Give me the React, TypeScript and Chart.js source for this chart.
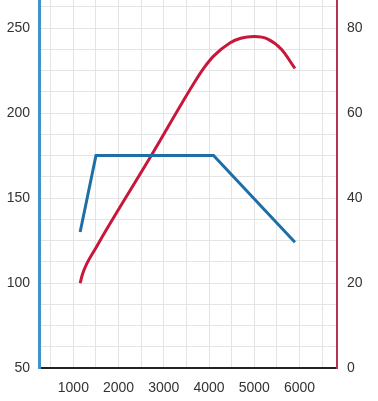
import React, { useEffect, useRef } from "react";
import { Chart, registerables } from "chart.js";

Chart.register(...registerables);

// Torque curve (left axis, Nm)
const torqueRpm = [1150, 1500, 4100, 5900];
const torqueValues = [130, 175, 175, 124];

// Power curve (right axis, kW)
const powerRpm = [1150, 1200, 1300, 1500, 1700, 2700, 3700, 3900, 4100, 4460, 4700, 5000, 5300, 5600, 5900];
const powerValues = [20, 22, 24.6, 28.3, 32, 49.6, 67.6, 70.8, 73.4, 76.5, 77.6, 78, 77.4, 75, 70.5];

const xTickValues = [500, 1000, 1500, 2000, 2500, 3000, 3500, 4000, 4500, 5000, 5500, 6000, 6500];
const xLabelValues = [1000, 2000, 3000, 4000, 5000, 6000];
const leftTickValues = [50, 62.5, 75, 87.5, 100, 112.5, 125, 137.5, 150, 162.5, 175, 187.5, 200, 212.5, 225, 237.5, 250, 262.5];
const leftLabelValues = [50, 100, 150, 200, 250];
const rightTickValues = [0, 20, 40, 60, 80];

const X_MIN = 240;
const X_MAX = 6830;
const LEFT_MIN = 50;
const LEFT_MAX = 266.5;
const RIGHT_MIN = 0;
const RIGHT_MAX = (LEFT_MAX - LEFT_MIN) * 0.4;

const FONT = { family: "Arial, 'Liberation Sans', Helvetica, sans-serif", size: 14 };

function zeroPad(scale: any) {
  scale.paddingTop = 0;
  scale.paddingBottom = 0;
  scale.paddingLeft = 0;
  scale.paddingRight = 0;
}

export default function App() {
  const ref = useRef<HTMLCanvasElement | null>(null);

  useEffect(() => {
    if (!ref.current) return;
    const chart = new Chart(ref.current, {
      type: "line",
      data: {
        datasets: [
          {
            label: "Torque",
            data: torqueRpm.map((x, i) => ({ x, y: torqueValues[i] })),
            borderColor: "#1f6ea6",
            borderWidth: 3,
            pointRadius: 0,
            tension: 0,
            yAxisID: "y",
          },
          {
            label: "Power",
            data: powerRpm.map((x, i) => ({ x, y: powerValues[i] })),
            borderColor: "#c8173a",
            borderWidth: 3,
            pointRadius: 0,
            cubicInterpolationMode: "monotone",
            yAxisID: "y1",
          },
        ],
      },
      options: {
        animation: false,
        responsive: false,
        maintainAspectRatio: false,
        layout: { padding: 0 },
        plugins: { legend: { display: false }, tooltip: { enabled: false } },
        scales: {
          x: {
            type: "linear",
            min: X_MIN,
            max: X_MAX,
            afterBuildTicks: (s: any) => {
              s.ticks = xTickValues.map((v) => ({ value: v }));
            },
            afterFit: (s: any) => {
              s.height = 33;
              zeroPad(s);
            },
            ticks: {
              autoSkip: false,
              maxRotation: 0,
              padding: 12,
              color: "#333",
              font: FONT,
              callback: (v: any) => (xLabelValues.includes(Number(v)) ? String(v) : ""),
            },
            grid: { color: "#e4e4e4", lineWidth: 1, drawTicks: false },
            border: { display: true, color: "#222", width: 2 },
          },
          y: {
            type: "linear",
            position: "left",
            min: LEFT_MIN,
            max: LEFT_MAX,
            afterBuildTicks: (s: any) => {
              s.ticks = leftTickValues.map((v) => ({ value: v }));
            },
            afterFit: (s: any) => {
              s.width = 39;
              zeroPad(s);
            },
            ticks: {
              autoSkip: false,
              padding: 9,
              color: "#333",
              font: FONT,
              callback: (v: any) => (leftLabelValues.includes(Number(v)) ? String(v) : ""),
            },
            grid: { color: "#e4e4e4", lineWidth: 1, drawTicks: false },
            border: { display: true, color: "#3f93c9", width: 3 },
          },
          y1: {
            type: "linear",
            position: "right",
            min: RIGHT_MIN,
            max: RIGHT_MAX,
            afterBuildTicks: (s: any) => {
              s.ticks = rightTickValues.map((v) => ({ value: v }));
            },
            afterFit: (s: any) => {
              s.width = 41;
              zeroPad(s);
            },
            ticks: {
              autoSkip: false,
              padding: 10,
              color: "#333",
              font: FONT,
            },
            grid: { drawOnChartArea: false, drawTicks: false },
            border: { display: true, color: "#b8324f", width: 2 },
          },
        },
      },
    } as any);
    return () => chart.destroy();
  }, []);

  return (
    <div style={{ position: "fixed", left: 0, top: 0, width: 378, height: 401, background: "#fff" }}>
      <canvas ref={ref} width={378} height={401} style={{ width: 378, height: 401, display: "block" }} />
    </div>
  );
}
